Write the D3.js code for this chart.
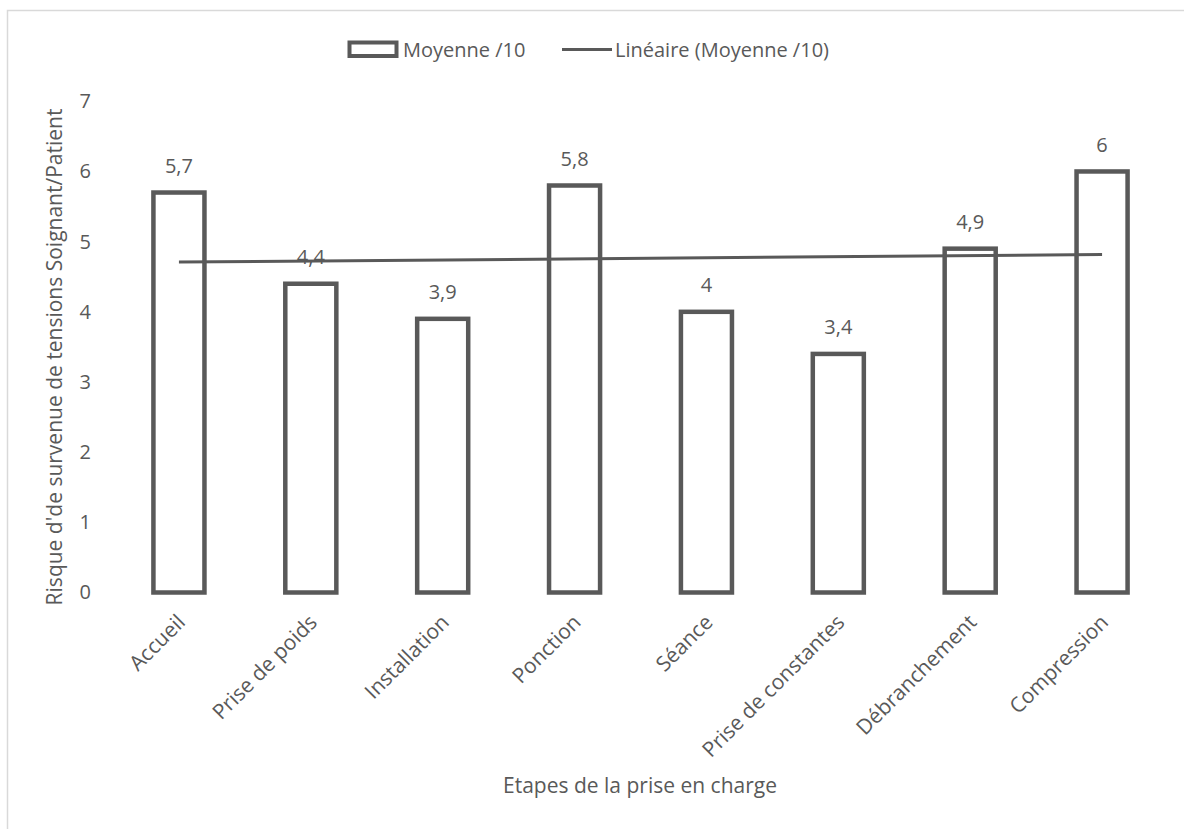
<!DOCTYPE html>
<html>
<head>
<meta charset="utf-8">
<script src="https://cdn.jsdelivr.net/npm/d3@7"></script>
<style>
  html, body { margin: 0; padding: 0; background: #fff; }
  svg { display: block; font-family: "Open Sans", sans-serif; }
</style>
</head>
<body>
<svg id="chart" width="1184" height="829"></svg>
<script>
// Étapes de la prise en charge et moyenne du risque (/10)
const categories = ["Accueil", "Prise de poids", "Installation", "Ponction", "Séance", "Prise de constantes", "Débranchement", "Compression"];
const moyenne = [5.7, 4.4, 3.9, 5.8, 4, 3.4, 4.9, 6];
const yTicks = [0, 1, 2, 3, 4, 5, 6, 7];

const seriesName = "Moyenne /10";
const trendName = "Linéaire (Moyenne /10)";
const xTitle = "Etapes de la prise en charge";
const yTitle = "Risque d'de survenue de tensions Soignant/Patient";

const ink = "#595959";
const textColor = "#595959";

const svg = d3.select("#chart");

// chart frame
svg.append("rect")
  .attr("x", 7.5).attr("y", 10.5)
  .attr("width", 1200).attr("height", 900)
  .attr("fill", "none")
  .attr("stroke", "#d9d9d9")
  .attr("stroke-width", 1.5);

const x = d3.scaleBand()
  .domain(categories)
  .range([113, 1168])
  .paddingInner(0.613)
  .paddingOuter(0.3065);

const y = d3.scaleLinear().domain([0, 7]).range([592.5, 101.3]);

// y axis (labels only)
const yAxis = d3.axisLeft(y).tickValues(yTicks).tickSize(0).tickPadding(0).tickFormat(d3.format("d"));
const gy = svg.append("g").attr("transform", "translate(91,0)").call(yAxis);
gy.select(".domain").remove();
gy.selectAll("text")
  .attr("fill", textColor)
  .attr("font-size", 20)
  .attr("font-family", "Open Sans, sans-serif");

// bars
const bw = x.bandwidth();
svg.append("g").selectAll("rect")
  .data(moyenne)
  .join("rect")
  .attr("x", (d, i) => x(categories[i]))
  .attr("y", d => y(d))
  .attr("width", bw)
  .attr("height", d => y(0) - y(d))
  .attr("fill", "#fff")
  .attr("stroke", ink)
  .attr("stroke-width", 4.5);

// value labels
const fmt = v => String(v).replace(".", ",");
svg.append("g").selectAll("text")
  .data(moyenne)
  .join("text")
  .attr("x", (d, i) => x(categories[i]) + bw / 2)
  .attr("y", d => y(d) - 19.5)
  .attr("text-anchor", "middle")
  .attr("font-size", 20)
  .attr("fill", textColor)
  .text(fmt);

// linear trend (least squares on category index)
const n = moyenne.length;
const xs = d3.range(1, n + 1);
const mx = d3.mean(xs), my = d3.mean(moyenne);
const slope = d3.sum(xs, (xi, i) => (xi - mx) * (moyenne[i] - my)) / d3.sum(xs, xi => (xi - mx) ** 2);
const intercept = my - slope * mx;
const trend = xs.map((xi, i) => ({ cat: categories[i], v: intercept + slope * xi }));
const trendPts = [trend[0], trend[n - 1]];
svg.append("path")
  .datum(trendPts)
  .attr("fill", "none")
  .attr("stroke", ink)
  .attr("stroke-width", 3)
  .attr("d", d3.line().x(d => x(d.cat) + bw / 2).y(d => y(d.v)));

// category labels, rotated
svg.append("g").selectAll("text")
  .data(categories)
  .join("text")
  .attr("transform", d => `translate(${x(d) + bw / 2 - 3},${613}) rotate(-45)`)
  .attr("text-anchor", "end")
  .attr("dy", "0.71em")
  .attr("font-size", 21)
  .attr("fill", textColor)
  .text(d => d);

// axis titles
svg.append("text")
  .attr("x", 640).attr("y", 793)
  .attr("text-anchor", "middle")
  .attr("font-size", 21)
  .attr("fill", textColor)
  .text(xTitle);

svg.append("text")
  .attr("transform", "translate(62,357) rotate(-90)")
  .attr("text-anchor", "middle")
  .attr("font-size", 21)
  .attr("fill", textColor)
  .text(yTitle);

// legend
const lg = svg.append("g");
lg.append("rect")
  .attr("x", 349.5).attr("y", 42.5)
  .attr("width", 47).attr("height", 13.5)
  .attr("fill", "#fff")
  .attr("stroke", ink)
  .attr("stroke-width", 4);
lg.append("text")
  .attr("x", 403).attr("y", 56.5)
  .attr("font-size", 20)
  .attr("fill", textColor)
  .text(seriesName);
lg.append("line")
  .attr("x1", 562).attr("x2", 612)
  .attr("y1", 49.5).attr("y2", 49.5)
  .attr("stroke", ink)
  .attr("stroke-width", 3);
lg.append("text")
  .attr("x", 615).attr("y", 56.5)
  .attr("font-size", 20)
  .attr("fill", textColor)
  .text(trendName);
</script>
</body>
</html>
